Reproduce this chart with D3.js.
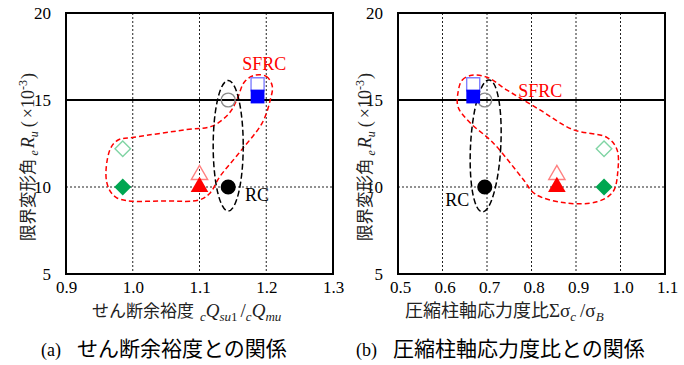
<!DOCTYPE html>
<html>
<head>
<meta charset="utf-8">
<script src="https://cdn.jsdelivr.net/npm/d3@7"></script>
<style>
  html, body { margin: 0; padding: 0; background: #fff; }
  svg { display: block; }
</style>
</head>
<body>
<svg id="chart" width="684" height="365"></svg>
<script>
// ---- data ----
const specimens   = ["RC", "SFRC-1", "SFRC-2", "SFRC-3"];
const markerShape = ["circle", "triangle", "diamond", "square"];
// shear margin cQsu1/cQmu
const shearMargin = [1.143, 1.100, 0.985, 1.187];
// axial stress ratio Σσc/σB
const axialRatio  = [0.695, 0.857, 0.963, 0.669];
// ultimate drift eRu (×10^-3): filled and open markers
const ruFilled    = [10.0, 10.0, 10.0, 15.2];
const ruOpen      = [15.0, 10.7, 12.2, 15.9];

const yTicks  = [5, 10, 15, 20];
const xTicksA = [0.9, 1.0, 1.1, 1.2, 1.3];
const xTicksB = [0.5, 0.6, 0.7, 0.8, 0.9, 1.0, 1.1];

// SFRC group outlines (data coordinates)
const sfrcOutlineA = [
  [1.182,16.42],[1.200,16.36],[1.209,15.80],[1.206,15.00],[1.194,13.69],
  [1.160,11.99],[1.130,10.57],[1.116,9.66],[1.100,9.26],[1.051,9.20],
  [0.976,9.38],[0.961,10.28],[0.966,12.16],[0.978,12.70],[1.002,12.86],
  [1.081,13.30],[1.119,13.50],[1.145,14.26],[1.157,15.11],[1.167,16.02]
];
const sfrcOutlineB = [
  [0.635,15.45],[0.644,16.14],[0.666,16.42],[0.700,16.31],[0.745,15.57],
  [0.819,14.43],[0.893,13.30],[0.970,12.84],[0.992,12.16],[0.994,10.91],
  [0.983,9.72],[0.947,9.15],[0.875,9.09],[0.808,9.60],[0.781,10.45],
  [0.713,12.56],[0.662,13.69],[0.635,14.60]
];
// RC group ellipses: [cx, cy, rx, ry, tilt deg]
const rcEllipseA = [1.143, 12.37, 0.0225, 3.75, 0];
const rcEllipseB = [0.697, 12.36, 0.034, 3.80, 3];

const filledColor = ["#000000", "#ff0000", "#00a651", "#0000ff"];
const openColor   = ["#8c8c8c", "#ff8080", "#80d4a4", "#8080ff"];

const SERIF = "'Liberation Serif', 'Times New Roman', serif";
const JP = "'Noto Sans CJK JP', sans-serif";

const svg = d3.select("#chart");

function markerPath(shape, size) {
  const sym = { circle: d3.symbolCircle, triangle: d3.symbolTriangle,
                diamond: d3.symbolSquare, square: d3.symbolSquare }[shape];
  return d3.symbol(sym, size)();
}

// appends a run of text with an optional shift relative to the main baseline
function run(t, text, opts = {}) {
  const s = t.append("tspan").style("font-family", opts.jp ? JP : SERIF).text(text);
  if (opts.size) s.attr("font-size", opts.size);
  if (opts.italic) s.attr("font-style", "italic");
  if (opts.dy) s.attr("dy", opts.dy);
  if (opts.dx) s.attr("dx", opts.dx);
  return s;
}

function drawPanel(cfg) {
  const x = d3.scaleLinear().domain(cfg.xDomain).range([cfg.left, cfg.right]);
  const y = d3.scaleLinear().domain([5, 20]).range([274, 13]);
  const g = svg.append("g");

  // grid: vertical dotted at interior ticks
  g.selectAll("line.vg").data(cfg.xTicks.slice(1, -1)).join("line")
    .attr("x1", d => x(d)).attr("x2", d => x(d))
    .attr("y1", y(20)).attr("y2", y(5))
    .attr("stroke", "#222").attr("stroke-width", 1).attr("stroke-dasharray", "2,2");
  g.append("line")
    .attr("x1", x.range()[0]).attr("x2", x.range()[1])
    .attr("y1", y(10)).attr("y2", y(10))
    .attr("stroke", "#222").attr("stroke-width", 1).attr("stroke-dasharray", "2,2");
  g.append("line")
    .attr("x1", x.range()[0]).attr("x2", x.range()[1])
    .attr("y1", y(15)).attr("y2", y(15))
    .attr("stroke", "#000").attr("stroke-width", 2);

  // group outlines
  const line = d3.line().x(d => x(d[0])).y(d => y(d[1])).curve(d3.curveCatmullRomClosed.alpha(0.5));
  g.append("path").attr("d", line(cfg.outline))
    .attr("fill", "none").attr("stroke", "#ff0000").attr("stroke-width", 1.5)
    .attr("stroke-dasharray", "5,3");
  const [ecx, ecy, erx, ery, tilt] = cfg.ellipse;
  g.append("ellipse")
    .attr("cx", 0).attr("cy", 0)
    .attr("rx", x(ecx + erx) - x(ecx)).attr("ry", y(ecy) - y(ecy + ery))
    .attr("transform", `translate(${x(ecx)},${y(ecy)}) rotate(${tilt})`)
    .attr("fill", "none").attr("stroke", "#000").attr("stroke-width", 1.5)
    .attr("stroke-dasharray", "6,3");

  // open markers
  const idx = d3.range(specimens.length);
  const openSize = { circle: 150, triangle: 115, diamond: 120, square: 170 };
  const fillSize = { circle: 180, triangle: 135, diamond: 145, square: 190 };
  g.selectAll("path.open").data(idx).join("path")
    .attr("d", i => markerPath(markerShape[i], openSize[markerShape[i]]))
    .attr("transform", i => `translate(${x(cfg.xs[i])},${y(ruOpen[i])})` + (markerShape[i] === "diamond" ? " rotate(45)" : ""))
    .attr("fill", "none").attr("stroke", i => openColor[i]).attr("stroke-width", 1.4);
  // filled markers
  g.selectAll("path.filled").data(idx).join("path")
    .attr("d", i => markerPath(markerShape[i], fillSize[markerShape[i]]))
    .attr("transform", i => `translate(${x(cfg.xs[i])},${y(ruFilled[i])})` + (markerShape[i] === "diamond" ? " rotate(45)" : ""))
    .attr("fill", i => filledColor[i]);

  // frame
  g.append("rect")
    .attr("x", x.range()[0]).attr("y", y(20))
    .attr("width", x.range()[1] - x.range()[0]).attr("height", y(5) - y(20))
    .attr("fill", "none").attr("stroke", "#000").attr("stroke-width", 2);

  // axes (tick labels only)
  const xAxis = g.append("g").attr("transform", `translate(0,${y(5)})`)
    .call(d3.axisBottom(x).tickValues(cfg.xTicks).tickFormat(d3.format(".1f")).tickSize(0).tickPadding(7))
    .attr("font-family", SERIF).attr("font-size", 17);
  xAxis.select(".domain").remove();
  xAxis.selectAll("text").style("font-family", SERIF).attr("fill", "#000").attr("dx", cfg.xLabelDx);
  const yAxis = g.append("g").attr("transform", `translate(${x.range()[0]},0)`)
    .call(d3.axisLeft(y).tickValues(yTicks).tickSize(0).tickPadding(15))
    .attr("font-family", SERIF).attr("font-size", 17);
  yAxis.select(".domain").remove();
  yAxis.selectAll("text").style("font-family", SERIF).attr("fill", "#000");

  // group labels
  g.append("text").style("font-family", SERIF).attr("x", x(cfg.sfrcLabel[0])).attr("y", y(cfg.sfrcLabel[1]))
    .attr("font-size", 18).attr("fill", "#ff0000").text("SFRC");
  g.append("text").style("font-family", SERIF).attr("x", x(cfg.rcLabel[0])).attr("y", y(cfg.rcLabel[1]))
    .attr("font-size", 18).attr("fill", "#000").text("RC");

  // y title
  const yt = g.append("text").attr("transform", `translate(${cfg.yTitleX},157) rotate(-90)`)
    .attr("text-anchor", "middle").attr("font-size", 18).attr("fill", "#222");
  run(yt, "限界変形角", { jp: true, size: 16.5 });
  run(yt, "e", { italic: true, size: 12, dy: 4, dx: 3 });
  run(yt, "R", { italic: true, dy: -4, dx: 2 });
  run(yt, "u", { italic: true, size: 12, dy: 4 });
  run(yt, "(", { dy: -4, dx: 4 });
  run(yt, "×10", { dx: 3 });
  run(yt, "-3", { size: 12, dy: -7 });
  run(yt, ")", { dy: 7, dx: 1 });

  // x title
  cfg.xTitle(g.append("text").attr("x", cfg.xTitleX).attr("y", 317).attr("font-size", 19).attr("fill", "#222"));

  // caption
  const cap = g.append("text").attr("x", cfg.captionX).attr("y", 356).attr("fill", "#000");
  run(cap, cfg.captionTag, { size: 18 });
  run(cap, cfg.caption, { jp: true, size: 21, dx: 16 });
}

drawPanel({
  xDomain: [0.9, 1.3], left: 66, right: 333, xTicks: xTicksA, xs: shearMargin,
  outline: sfrcOutlineA, ellipse: rcEllipseA, xLabelDx: 0,
  sfrcLabel: [1.164, 16.72], rcLabel: [1.168, 9.2],
  yTitleX: 34, xTitleX: 92, captionX: 41,
  captionTag: "(a)", caption: "せん断余裕度との関係",
  xTitle: t => {
    run(t, "せん断余裕度", { jp: true, size: 17 });
    run(t, "c", { italic: true, size: 13, dy: 4, dx: 6 });
    run(t, "Q", { italic: true, dy: -4 });
    run(t, "su", { italic: true, size: 13, dy: 4 });
    run(t, "1", { size: 13 });
    run(t, "/", { dy: -4, dx: 3 });
    run(t, "c", { italic: true, size: 13, dy: 4 });
    run(t, "Q", { italic: true, dy: -4 });
    run(t, "mu", { italic: true, size: 13, dy: 4 });
  }
});

drawPanel({
  xDomain: [0.5, 1.1], left: 398, right: 665, xTicks: xTicksB, xs: axialRatio,
  outline: sfrcOutlineB, ellipse: rcEllipseB, xLabelDx: 2,
  sfrcLabel: [0.770, 15.15], rcLabel: [0.606, 8.9],
  yTitleX: 371, xTitleX: 405, captionX: 356,
  captionTag: "(b)", caption: "圧縮柱軸応力度比との関係",
  xTitle: t => {
    run(t, "圧縮柱軸応力度比", { jp: true, size: 18 });
    run(t, "Σσ");
    run(t, "c", { italic: true, size: 13, dy: 4 });
    run(t, "/σ", { dy: -4, dx: 4 });
    run(t, "B", { italic: true, size: 13, dy: 4 });
  }
});
</script>
</body>
</html>
